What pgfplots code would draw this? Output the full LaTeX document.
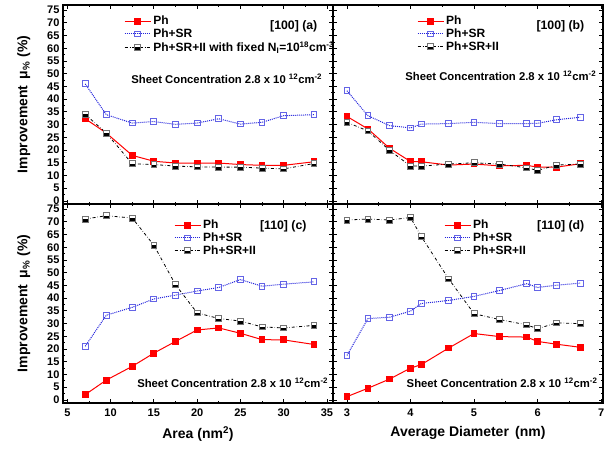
\documentclass[border=0pt]{standalone}
\usepackage{fontspec}
\setmainfont{Liberation Sans}
\usepackage{pgfplots}
\pgfplotsset{compat=1.18}

\definecolor{phred}{HTML}{FF0000}
\definecolor{srblue}{HTML}{2424DC}
\definecolor{srmark}{HTML}{6464E6}

% half filled square: white top, black bottom, grey border
\pgfdeclareplotmark{halfsq}{%
  \pgfsetfillcolor{white}%
  \pgfpathrectangle{\pgfpoint{-\pgfplotmarksize}{0pt}}{\pgfpoint{2\pgfplotmarksize}{\pgfplotmarksize}}%
  \pgfusepathqfill
  \pgfsetfillcolor{black}%
  \pgfpathrectangle{\pgfpoint{-\pgfplotmarksize}{-\pgfplotmarksize}}{\pgfpoint{2\pgfplotmarksize}{\pgfplotmarksize}}%
  \pgfusepathqfill
  \pgfsetstrokecolor{black!55}%
  \pgfpathrectangle{\pgfpoint{-\pgfplotmarksize}{-\pgfplotmarksize}}{\pgfpoint{2\pgfplotmarksize}{2\pgfplotmarksize}}%
  \pgfusepathqstroke
}

\pgfplotsset{
  panel/.style={
    scale only axis, width=270pt, height=199pt,
    ymin=-1.2, ymax=77,
    ytick={0,5,...,75}, minor y tick num=1,
    tick align=inside, major tick length=4pt, minor tick length=2pt,
    axis line style={line width=1.2pt},
    tick style={line width=0.8pt, black},
    tick label style={font=\fontsize{11}{12}\selectfont\bfseries},
    xticklabel style={yshift=-2pt},
    /pgf/number format/assume math mode=true,
    label style={font=\fontsize{14}{16}\selectfont\bfseries},
    ylabel style={at={(axis description cs:-0.145,0.5)}, anchor=center},
    xlabel style={yshift=-3pt},
    legend cell align=left,
    legend style={draw=none, fill=none, anchor=north west,
      font=\fontsize{12}{14}\selectfont\bfseries, row sep=-1.5pt},
    legend image code/.code={\draw[mark repeat=2,mark phase=2,##1]
      plot coordinates {(0pt,0pt) (13pt,0pt) (26pt,0pt)};},
  },
  areax/.style={xmin=4.5, xmax=35.7, xtick={5,10,...,35}, minor x tick num=1},
  diamx/.style={xmin=2.78, xmax=7.03, xtick={3,4,5,6,7}, minor x tick num=1},
  ph/.style={color=phred, line width=1pt, mark=square*, mark size=2.9pt, mark options={solid}},
  sr/.style={color=srblue, densely dotted, line width=1pt, mark=square, mark size=2.9pt,
    mark options={solid, draw=srmark, fill=white}},
  ii/.style={black, dash dot, line width=0.8pt, mark=halfsq, mark size=2.9pt, mark options={solid}},
}

\newcommand{\sheet}{Sheet Concentration 2.8 x 10 \textsuperscript{12}cm\textsuperscript{-2}}
\newcommand{\sheetfont}{\fontsize{11.3}{13}\selectfont\bfseries}
\newcommand{\annfont}{\fontsize{12.3}{14}\selectfont\bfseries}

\begin{document}
\begin{tikzpicture}
% (a)
\begin{axis}[panel, areax, at={(0pt,199pt)}, anchor=south west,
  xticklabels={}, ylabel={Improvement \,μ\textsubscript{\%} (\%)},
  legend style={at={(0.215,0.965)}}]
\addplot[ph] coordinates {(7.07,32.3) (9.5,26.7) (12.5,17.9) (15,15.6) (17.5,14.9) (20,14.9) (22.5,14.9) (25,14.3) (27.5,14.0) (30,14.0) (33.5,15.4)};
\addlegendentry{Ph}
\addplot[sr] coordinates {(7.07,46.0) (9.5,33.9) (12.5,30.6) (15,31.2) (17.5,30.1) (20,30.6) (22.5,32.3) (25,30.2) (27.5,30.9) (30,33.5) (33.5,33.9)};
\addlegendentry{Ph+SR}
\addplot[ii] coordinates {(7.07,34.0) (9.5,26.7) (12.5,14.6) (15,14.3) (17.5,13.7) (20,13.4) (22.5,13.3) (25,13.3) (27.5,12.9) (30,12.6) (33.5,14.7)};
\addlegendentry{Ph+SR+II with fixed N\textsubscript{I}=10\textsuperscript{18}cm\textsuperscript{-3}}
\node[anchor=east, font=\annfont] at (rel axis cs:0.955,0.895) {[100] (a)};
\node[anchor=west, font=\sheetfont] at (rel axis cs:0.24,0.628) {\sheet};
\end{axis}
% (b)
\begin{axis}[panel, diamx, at={(270pt,199pt)}, anchor=south west,
  xticklabels={}, yticklabels={},
  legend style={at={(0.30,0.965)}}]
\addplot[ph] coordinates {(3,33.2) (3.33,28.3) (3.67,20.7) (4,15.5) (4.17,15.4) (4.6,14.1) (5,14.5) (5.4,13.8) (5.83,14.0) (6,13.3) (6.3,13.3) (6.67,14.6)};
\addlegendentry{Ph}
\addplot[sr] coordinates {(3,43.3) (3.33,33.5) (3.67,29.6) (4,28.7) (4.17,30.2) (4.6,30.4) (5,30.9) (5.4,30.4) (5.83,30.4) (6,30.5) (6.3,31.9) (6.67,32.9)};
\addlegendentry{Ph+SR}
\addplot[ii] coordinates {(3,30.9) (3.33,27.5) (3.67,19.9) (4,13.7) (4.17,13.7) (4.6,14.5) (5,15.0) (5.4,14.5) (5.83,13.0) (6,12.0) (6.3,14.1) (6.67,14.5)};
\addlegendentry{Ph+SR+II}
\node[anchor=east, font=\annfont] at (rel axis cs:0.944,0.895) {[100] (b)};
\node[anchor=west, font=\sheetfont] at (rel axis cs:0.255,0.643) {\sheet};
\end{axis}
% (c)
\begin{axis}[panel, areax, at={(0pt,0pt)}, anchor=south west,
  xlabel={Area (nm\textsuperscript{2})}, ylabel={Improvement \,μ\textsubscript{\%} (\%)},
  legend style={at={(0.40,0.94)}}]
\addplot[ph] coordinates {(7.07,2.1) (9.5,7.8) (12.5,13.2) (15,18.4) (17.5,23.0) (20,27.5) (22.5,28.3) (25,26.2) (27.5,23.7) (30,23.6) (33.5,21.8)};
\addlegendentry{Ph}
\addplot[sr] coordinates {(7.07,21.1) (9.5,33.3) (12.5,36.4) (15,39.7) (17.5,41.2) (20,42.8) (22.5,44.2) (25,47.3) (27.5,44.7) (30,45.5) (33.5,46.4)};
\addlegendentry{Ph+SR}
\addplot[ii] coordinates {(7.07,71.1) (9.5,72.4) (12.5,71.5) (15,60.8) (17.5,45.3) (20,34.2) (22.5,32.0) (25,31.0) (27.5,28.7) (30,28.3) (33.5,29.3)};
\addlegendentry{Ph+SR+II}
\node[anchor=east, font=\annfont] at (rel axis cs:0.915,0.89) {[110] (c)};
\node[anchor=west, font=\sheetfont] at (rel axis cs:0.262,0.10) {\sheet};
\end{axis}
% (d)
\begin{axis}[panel, diamx, at={(270pt,0pt)}, anchor=south west,
  yticklabels={}, xlabel={Average Diameter \,(nm)},
  legend style={at={(0.40,0.94)}}]
\addplot[ph] coordinates {(3,1.3) (3.33,4.6) (3.67,8.2) (4,12.5) (4.17,13.9) (4.6,20.4) (5,26.1) (5.4,24.9) (5.83,24.7) (6,23.0) (6.3,21.9) (6.67,20.7)};
\addlegendentry{Ph}
\addplot[sr] coordinates {(3,17.5) (3.33,32.0) (3.67,32.5) (4,34.9) (4.17,37.9) (4.6,39.1) (5,40.7) (5.4,43.0) (5.83,45.7) (6,44.2) (6.3,45.1) (6.67,45.9)};
\addlegendentry{Ph+SR}
\addplot[ii] coordinates {(3,70.7) (3.33,71.1) (3.67,70.7) (4,71.7) (4.17,64.2) (4.6,47.6) (5,33.9) (5.4,31.6) (5.83,29.5) (6,28.0) (6.3,30.3) (6.67,30.0)};
\addlegendentry{Ph+SR+II}
\node[anchor=east, font=\annfont] at (rel axis cs:0.944,0.89) {[110] (d)};
\node[anchor=west, font=\sheetfont] at (rel axis cs:0.26,0.10) {\sheet};
\end{axis}
\pgfresetboundingbox
\path[use as bounding box] (-63pt,-45pt) rectangle (552pt,403pt);
\end{tikzpicture}
\end{document}
